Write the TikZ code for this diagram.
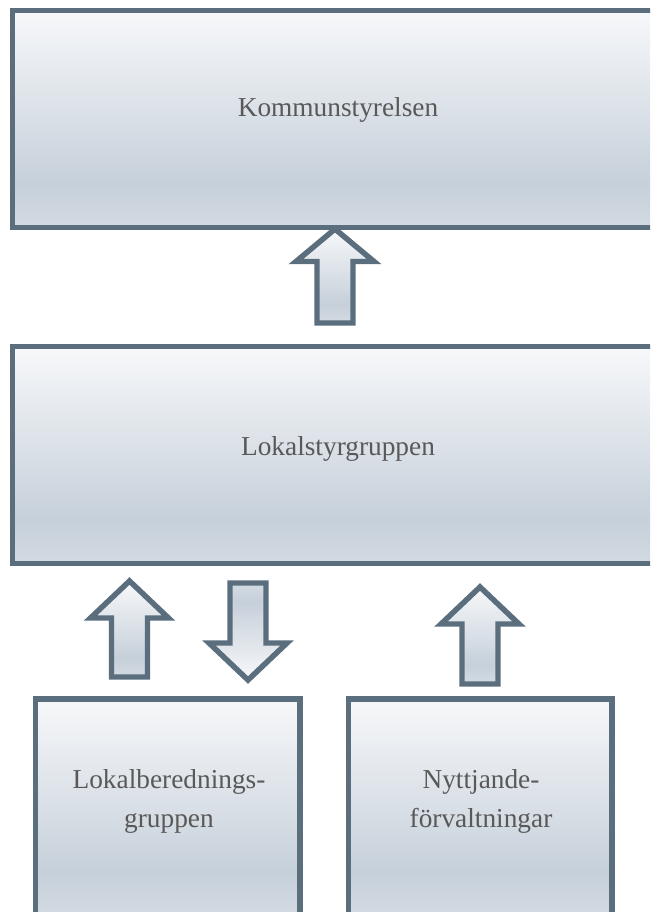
\documentclass[tikz,border=0pt]{standalone}
\usepackage{fontspec}
\setmainfont{Liberation Serif}
\definecolor{edgec}{HTML}{5B6E7E}
\definecolor{txtc}{HTML}{595959}
\definecolor{gT}{HTML}{F7F8FA}
\definecolor{gM}{HTML}{C6D0DA}
\definecolor{gB}{HTML}{D3DAE2}
\pgfdeclareverticalshading{boxgrad}{100bp}{color(0bp)=(gB); color(25bp)=(gB); color(35bp)=(gM); color(75bp)=(gT); color(100bp)=(gT)}
\tikzset{
  box/.style={draw=edgec, line width=4.1pt, shading=boxgrad, minimum height=162.75pt, inner sep=0pt},
  blk/.style={draw=edgec, line width=4.1pt, shading=boxgrad},
  lbl/.style={text=txtc, font=\fontsize{20.5}{29}\selectfont, align=center, inner sep=0pt}
}
\newcommand{\upblock}[4]{%
  \draw[blk] (#1,#2) -- (#1+39,#3) -- (#1+18,#3) -- (#1+18,#4) -- (#1-18,#4) -- (#1-18,#3) -- (#1-39,#3) -- cycle;}
\newcommand{\downblock}[4]{%
  \draw[blk, shading angle=180] (#1,#2) -- (#1+39,#3) -- (#1+18,#3) -- (#1+18,#4) -- (#1-18,#4) -- (#1-18,#3) -- (#1-39,#3) -- cycle;}
\begin{document}
\begin{tikzpicture}[x=0.75pt,y=-0.75pt]
\useasboundingbox (0,0) rectangle (650,912);
\clip (0,0) rectangle (650,912);
\fill[white] (0,0) rectangle (650,912);
% boxes
\node[box, minimum width=488.25pt] (ks) at (338,119) {};
\node[box, minimum width=488.25pt] (lsg) at (338,455) {};
\node[box, minimum width=198.4pt] (lbg) at (167.75,807.5) {};
\node[box, minimum width=197.5pt] (nf) at (480.35,807.5) {};
% labels
\node[lbl, anchor=base] (tks) at (338,117) {Kommunstyrelsen};
\node[lbl, anchor=base] (tlsg) at (338,455) {Lokalstyrgruppen};
\node[lbl, anchor=base] (tlbg1) at (169,788) {Lokalberednings-};
\node[lbl, anchor=base] (tlbg2) at (169,827) {gruppen};
\node[lbl, anchor=base] (tnf1) at (481,788) {Nyttjande-};
\node[lbl, anchor=base] (tnf2) at (481,827) {förvaltningar};
% block arrows
\upblock{335}{229}{261.5}{323}
\upblock{129.5}{581}{618}{677}
\downblock{248}{680}{643}{583}
\upblock{480}{587}{624}{684}
\end{tikzpicture}
\end{document}
